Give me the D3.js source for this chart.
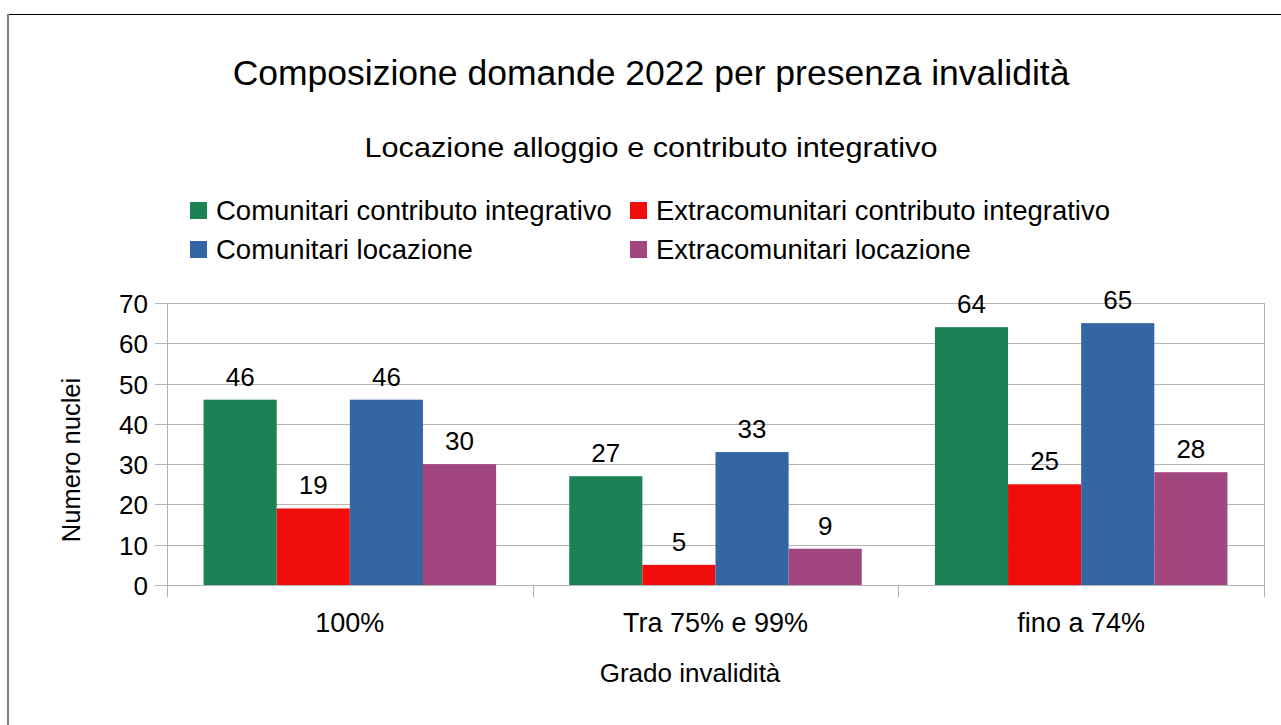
<!DOCTYPE html>
<html><head><meta charset="utf-8">
<script src="https://cdn.jsdelivr.net/npm/d3@7"></script>
<style>body{margin:0;background:#fff}svg{display:block;font-family:"Liberation Sans",Arial,sans-serif}</style>
</head><body><svg id="c" width="1281" height="725"></svg>
<script>
const categories = ["100%", "Tra 75% e 99%", "fino a 74%"];
const seriesNames = ["Comunitari contributo integrativo", "Extracomunitari contributo integrativo", "Comunitari locazione", "Extracomunitari locazione"];
const comunitariContributo = [46, 27, 64];
const extracomunitariContributo = [19, 5, 25];
const comunitariLocazione = [46, 33, 65];
const extracomunitariLocazione = [30, 9, 28];
const yTicks = [0, 10, 20, 30, 40, 50, 60, 70];
const colors = ["#1b8254", "#f10d0c", "#3465a4", "#a1467e"];

const series = [comunitariContributo, extracomunitariContributo, comunitariLocazione, extracomunitariLocazione];
const svg = d3.select("#c");
const L = 167, R = 1264, T = 303, B = 585;

// frame
svg.append("line").attr("x1", 7).attr("x2", 1281).attr("y1", 14.5).attr("y2", 14.5).attr("stroke", "#000").attr("stroke-width", 1);
svg.append("line").attr("x1", 8).attr("x2", 8).attr("y1", 14).attr("y2", 725).attr("stroke", "#808080").attr("stroke-width", 2);

const x0 = d3.scaleBand().domain(categories).range([L, R]).paddingInner(0).paddingOuter(0);
const x1 = d3.scaleBand().domain(d3.range(series.length)).range([0, x0.bandwidth()]).paddingInner(0).paddingOuter(0.5);
const y = d3.scaleLinear().domain([0, 70]).range([B, T]);

// grid
const g = svg.append("g");
g.selectAll("line.grid").data(yTicks).join("line")
  .attr("x1", L - 12).attr("x2", R).attr("y1", d => Math.round(y(d)) + 0.5).attr("y2", d => Math.round(y(d)) + 0.5)
  .attr("stroke", "#b3b3b3");
g.append("line").attr("x1", R + 0.5).attr("x2", R + 0.5).attr("y1", T).attr("y2", B).attr("stroke", "#b3b3b3");
g.append("line").attr("x1", L + 0.5).attr("x2", L + 0.5).attr("y1", T).attr("y2", B + 12).attr("stroke", "#b3b3b3");
// category ticks
g.selectAll("line.ct").data(categories).join("line")
  .attr("x1", d => Math.round(x0(d) + x0.bandwidth()) + 0.5)
  .attr("x2", d => Math.round(x0(d) + x0.bandwidth()) + 0.5)
  .attr("y1", B).attr("y2", B + 12).attr("stroke", "#b3b3b3");

// bars
categories.forEach((c, ci) => {
  series.forEach((s, si) => {
    const bx = x0(c) + x1(si);
    svg.append("rect").attr("x", bx).attr("y", y(s[ci])).attr("width", x1.bandwidth()).attr("height", B - y(s[ci])).attr("fill", colors[si]);
    svg.append("text").attr("x", bx + x1.bandwidth() / 2).attr("y", y(s[ci]) - 14)
      .attr("text-anchor", "middle").attr("font-size", 26).attr("fill", "#000").text(s[ci]);
  });
});

// y tick labels
svg.selectAll("text.yt").data(yTicks).join("text")
  .attr("x", 148).attr("y", d => y(d) + 10).attr("text-anchor", "end").attr("font-size", 26).text(d => d);
// x labels
svg.selectAll("text.xt").data(categories).join("text")
  .attr("x", d => x0(d) + x0.bandwidth() / 2).attr("y", 632).attr("text-anchor", "middle").attr("font-size", 27).text(d => d);

// axis titles
svg.append("text").attr("x", 690).attr("y", 682).attr("text-anchor", "middle").attr("font-size", 26).text("Grado invalidità");
svg.append("text").attr("transform", "translate(80,460) rotate(-90)").attr("text-anchor", "middle").attr("font-size", 25.5).text("Numero nuclei");

// titles
svg.append("text").attr("x", 651).attr("y", 85).attr("text-anchor", "middle").attr("font-size", 35.5).text("Composizione domande 2022 per presenza invalidità");
svg.append("text").attr("x", 651).attr("y", 157).attr("text-anchor", "middle").attr("font-size", 28)
  .attr("textLength", 573).attr("lengthAdjust", "spacingAndGlyphs").text("Locazione alloggio e contributo integrativo");

// legend
const legPos = [[190, 220], [630, 220], [190, 259], [630, 259]];
seriesNames.forEach((n, i) => {
  const [lx, ly] = legPos[i];
  svg.append("rect").attr("x", lx).attr("y", ly - 18).attr("width", 17).attr("height", 17).attr("fill", colors[i]);
  svg.append("text").attr("x", lx + 26).attr("y", ly).attr("font-size", 27.5).text(n);
});
</script></body></html>
